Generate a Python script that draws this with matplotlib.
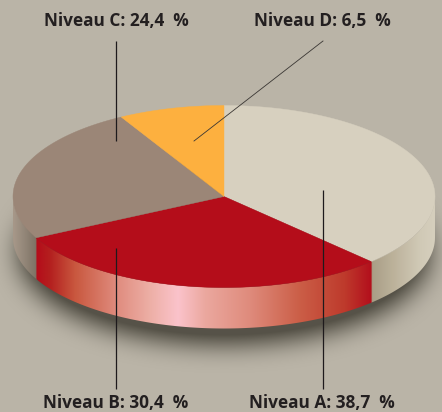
import numpy as np
import matplotlib
matplotlib.use("Agg")
import matplotlib.pyplot as plt
from matplotlib.patches import Polygon
from matplotlib.colors import LinearSegmentedColormap

W, H = 442, 412
# Printed labels
levels = ["Niveau A", "Niveau B", "Niveau C", "Niveau D"]
printed = ["38,7", "30,4", "24,4", "6,5"]
# Shares as actually drawn in the picture (clockwise from 12 o'clock)
drawn_share = [37.7, 29.8, 24.4, 8.1]
top_colors = ["#D7D0BF", "#B40D1A", "#9B8677", "#FDB03F"]

CX, CY, RX, RY, DEPTH = 224, 196.5, 211, 91, 41
BG = "#BAB4A7"

fig = plt.figure(figsize=(W/100, H/100), dpi=100)
ax = fig.add_axes([0, 0, 1, 1])
ax.set_xlim(0, W); ax.set_ylim(H, 0); ax.axis("off")
fig.patch.set_facecolor(BG)

def rim(a0, a1, n=200):
    a = np.radians(np.linspace(a0, a1, n))
    return CX + RX*np.sin(a), CY - RY*np.cos(a)

def box_blur(arr, r):
    k = np.ones(2*r+1)/(2*r+1)
    arr = np.apply_along_axis(lambda m: np.convolve(m, k, mode="same"), 0, arr)
    return np.apply_along_axis(lambda m: np.convolve(m, k, mode="same"), 1, arr)

# soft drop shadow
yy, xx = np.mgrid[0:H, 0:W]
mask = (((xx-CX)/(RX-6))**2 + ((yy-(CY+DEPTH+14))/(RY))**2 <= 1).astype(float)
for _ in range(3):
    mask = box_blur(mask, 12)
shadow = np.zeros((H, W, 4))
shadow[..., :3] = np.array([0.24, 0.23, 0.19])
shadow[..., 3] = np.clip(mask*1.1, 0, 0.8)
ax.imshow(shadow, extent=(0, W, H, 0), zorder=1, aspect="auto", interpolation="bilinear")
ax.set_xlim(0, W); ax.set_ylim(H, 0)

edges = np.cumsum([0] + drawn_share) / 100 * 360

# side wall, clipped gradient per visible segment
side_stops = [
    (13, "#A79889"), (22, "#978A7C"), (35.5, "#7E7365"),
    (36.5, "#B40D1A"), (50, "#B4201F"), (75, "#C9583F"), (115, "#DF8A7C"),
    (150, "#EDAFA6"), (178, "#FBC3CB"), (205, "#EBA89F"), (250, "#DF8B7C"),
    (300, "#CB5E47"), (345, "#BE3A2C"), (371.5, "#B30F1C"),
    (372.5, "#A99E86"), (395, "#BDB39C"), (420, "#D0C9B6"), (435, "#D6CFBD"),
]
cmap = LinearSegmentedColormap.from_list(
    "side", [((p-13)/(435-13), c) for p, c in side_stops], N=1024)
ramp = ((np.arange(13, 435.5, 0.5)-13)/(435-13)).reshape(1, -1)
im = ax.imshow(ramp, extent=(13, 435, H, 0), cmap=cmap, vmin=0, vmax=1,
               aspect="auto", zorder=2, interpolation="bilinear")
ax.set_xlim(0, W); ax.set_ylim(H, 0)
bx, by = rim(90, 270, 300)
clip = Polygon(np.r_[np.c_[bx, by], np.c_[bx[::-1], by[::-1]+DEPTH]],
               closed=True, transform=ax.transData, fc="none", ec="none")
ax.add_patch(clip)
im.set_clip_path(clip)

# top face
for a0, a1, c in zip(edges[:-1], edges[1:], top_colors):
    x, y = rim(a0, a1)
    ax.add_patch(Polygon(np.c_[np.r_[CX, x], np.r_[CY, y]], closed=True,
                         fc=c, ec=c, lw=0.3, zorder=3))

# leader lines
lc = "#1E1A1C"
for xv, yv in [((323, 323), (190, 389)), ((116, 116), (248, 389)), ((116, 116), (41, 141))]:
    ax.plot(xv, yv, color=lc, lw=0.9, zorder=5, solid_capstyle="butt")
ax.plot((323, 194), (41, 141), color="#3A3633", lw=0.6, zorder=5)

# labels
pos = [(322, 403), (116, 403), (116, 21), (322, 21)]
for name, val, (px, py) in zip(levels, printed, pos):
    ax.text(px, py, f"{name}: {val}  %", ha="center", va="center", fontsize=12.4,
            family="Open Sans", fontweight="bold", color="#231F20", zorder=6)

fig.savefig("out.png", dpi=100, facecolor=BG)
